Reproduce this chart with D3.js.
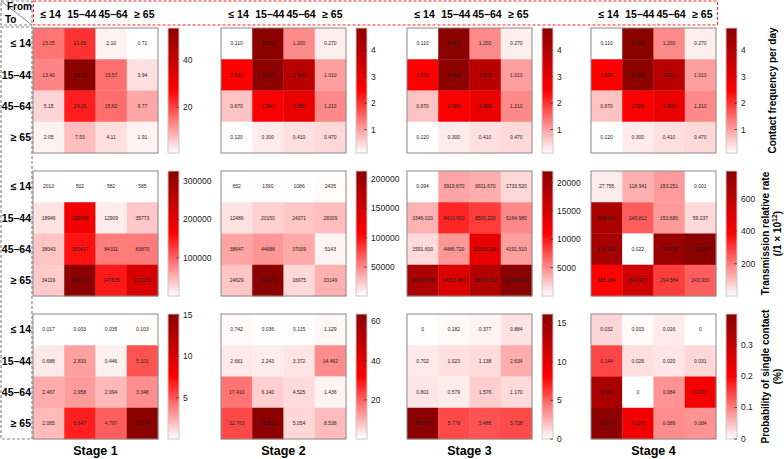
<!DOCTYPE html>
<html><head><meta charset="utf-8">
<script src="https://cdn.jsdelivr.net/npm/d3@7"></script>
<style>body{margin:0;background:#fff}svg{display:block;font-family:"Liberation Sans",Arial,sans-serif}</style>
</head><body><svg id="c" width="784" height="459"></svg>
<script>
const ageGroups = ["≤ 14", "15–44", "45–64", "≥ 65"];
const stageNames = ["Stage 1", "Stage 2", "Stage 3", "Stage 4"];
const rowTitles = [["Contact frequency per day"], ["Transmission relative rate", "(/1 × 10|12|)"], ["Probability of single contact", "(%)"]];

// rows = "To" group, columns = "From" group
const contactS1 = [[15.05, 21.89, 2.10, 0.71], [13.40, 53.33, 15.57, 3.94], [5.15, 24.05, 15.82, 9.77], [2.05, 7.53, 4.11, 1.91]];
const contactS2 = [[0.110, 4.850, 1.200, 0.270], [2.500, 4.800, 3.900, 1.010], [0.670, 2.580, 2.880, 1.210], [0.120, 0.300, 0.410, 0.470]];
const contactS3 = [[0.110, 4.850, 1.200, 0.270], [2.500, 4.800, 3.900, 1.010], [0.670, 2.580, 2.880, 1.210], [0.120, 0.300, 0.410, 0.470]];
const contactS4 = [[0.110, 4.850, 1.200, 0.270], [2.500, 4.800, 3.900, 1.010], [0.670, 2.580, 2.880, 1.210], [0.120, 0.300, 0.410, 0.470]];

const transS1 = [[2010, 502, 582, 585], [18946, 180454, 12909, 35773], [38043, 152417, 84311, 83870], [34119, 326243, 147835, 217258]];
const transS2 = [[652, 1390, 1086, 2435], [12486, 20150, 24371, 28309], [38647, 44688, 37009, 5143], [24629, 213739, 16975, 33149]];
const transS3 = [[0.094, 3919.670, 3601.670, 1733.520], [3346.020, 9413.650, 8500.220, 5164.980], [1591.600, 4486.720, 13250.200, 4191.510], [18909.130, 14263.680, 18387.000, 22068.600]];
const transS4 = [[27.755, 118.941, 153.251, 0.001], [668.091, 245.812, 153.680, 59.237], [683.193, 0.022, 718.098, 773.057], [385.054, 540.475, 294.584, 243.930]];

const probS1 = [[0.017, 0.003, 0.035, 0.103], [0.688, 2.833, 0.446, 5.101], [2.467, 2.958, 2.094, 3.348], [2.065, 6.647, 4.797, 15.144]];
const probS2 = [[0.742, 0.036, 0.115, 1.129], [2.661, 2.243, 3.372, 14.462], [17.410, 6.140, 4.525, 1.436], [22.763, 63.831, 5.054, 8.538]];
const probS3 = [[0, 0.182, 0.377, 0.884], [0.702, 1.023, 1.138, 2.634], [0.801, 0.579, 1.576, 1.170], [16.177, 5.779, 5.486, 5.728]];
const probS4 = [[0.032, 0.003, 0.016, 0], [0.144, 0.026, 0.020, 0.031], [0.344, 0, 0.084, 0.217], [0.397, 0.223, 0.089, 0.084]];

const contactTicks = [[20, 40], [1, 2, 3, 4], [1, 2, 3, 4], [1, 2, 3, 4]];
const transTicks = [[100000, 200000, 300000], [50000, 100000, 150000, 200000], [5000, 10000, 15000, 20000], [200, 400, 600]];
const probTicks = [[5, 10, 15], [20, 40, 60], [0, 5, 10, 15], [0, 0.1, 0.2, 0.3]];

const contactDecimals = [2, 3, 3, 3];
const transDecimals = [0, 0, 3, 3];
const probDecimals = [3, 3, 3, 3];

const panels = [
  {mats: [contactS1, contactS2, contactS3, contactS4], ticks: contactTicks, dec: contactDecimals},
  {mats: [transS1, transS2, transS3, transS4], ticks: transTicks, dec: transDecimals},
  {mats: [probS1, probS2, probS3, probS4], ticks: probTicks, dec: probDecimals}
];

const svg = d3.select("#c");
const colX = [33, 221, 407, 591];
const rowY = [28, 171, 314];
const S = 125;
const colors = ["#ffffff", "#ff0000", "#8b0000"];
const defs = svg.append("defs");

// header boxes
svg.append("rect").attr("x", 33.5).attr("y", 1).attr("width", 684).attr("height", 24)
  .attr("fill", "none").attr("stroke", "#ff2020").attr("stroke-dasharray", "3,2").attr("stroke-width", 1);
svg.append("rect").attr("x", 1).attr("y", 1).attr("width", 31).attr("height", 24)
  .attr("fill", "none").attr("stroke", "#888").attr("stroke-dasharray", "3,2").attr("stroke-width", 1.2);
svg.append("line").attr("x1", 1).attr("y1", 1).attr("x2", 32).attr("y2", 25).attr("stroke", "#888").attr("stroke-width", 1);
svg.append("text").attr("x", 32).attr("y", 10).attr("text-anchor", "end").attr("font-size", 10).attr("font-weight", "bold").text("From");
svg.append("text").attr("x", 5).attr("y", 23).attr("font-size", 10).attr("font-weight", "bold").text("To");
svg.append("rect").attr("x", 1).attr("y", 27).attr("width", 31).attr("height", 412)
  .attr("fill", "none").attr("stroke", "#888").attr("stroke-dasharray", "3,2").attr("stroke-width", 1.2);

const cx = d3.scaleBand().domain(d3.range(4)).range([0, S]);

// header column labels
colX.forEach(x0 => {
  ageGroups.forEach((g, i) => {
    svg.append("text").attr("x", x0 + cx(i) + cx.bandwidth() / 2 + 2).attr("y", 18)
      .attr("text-anchor", "middle").attr("font-size", 10.5).attr("font-weight", "bold").text(g);
  });
});

// row labels
rowY.forEach(y0 => {
  ageGroups.forEach((g, i) => {
    svg.append("text").attr("x", 31).attr("y", y0 + cx(i) + cx.bandwidth() / 2)
      .attr("dy", "0.35em").attr("text-anchor", "end").attr("font-size", 10.5).attr("font-weight", "bold").text(g);
  });
});

panels.forEach((p, r) => {
  const y0 = rowY[r];
  p.mats.forEach((m, s) => {
    const x0 = colX[s];
    const flat = m.flat();
    const mn = d3.min(flat), mx = d3.max(flat);
    const color = d3.scaleLinear().domain([mn, (mn + mx) / 2, mx]).range(colors);
    const g = svg.append("g").attr("transform", `translate(${x0},${y0})`);
    m.forEach((row, ri) => row.forEach((v, ci) => {
      g.append("rect").attr("x", cx(ci)).attr("y", cx(ri)).attr("width", cx.bandwidth() + 0.3).attr("height", cx.bandwidth() + 0.3)
        .attr("fill", color(v));
      g.append("text").attr("x", cx(ci) + cx.bandwidth() / 2).attr("y", cx(ri) + cx.bandwidth() / 2)
        .attr("dy", "0.35em").attr("text-anchor", "middle").attr("font-size", 5).attr("fill", "#222")
        .text(v === 0 ? "0" : v.toFixed(p.dec[s]));
    }));
    g.append("rect").attr("x", 0).attr("y", 0).attr("width", S).attr("height", S)
      .attr("fill", "none").attr("stroke", "#8a8a8a").attr("stroke-width", 1);

    // colorbar
    const bx = x0 + 135, bw = 11;
    const yScale = d3.scaleLinear().domain([mn, mx]).range([y0 + S, y0]);
    const gid = `grad${r}${s}`;
    const grad = defs.append("linearGradient").attr("id", gid).attr("x1", 0).attr("y1", 1).attr("x2", 0).attr("y2", 0);
    d3.range(0, 1.0001, 0.05).forEach(t => {
      grad.append("stop").attr("offset", t).attr("stop-color", color(mn + t * (mx - mn)));
    });
    svg.append("rect").attr("x", bx).attr("y", y0).attr("width", bw).attr("height", S)
      .attr("fill", `url(#${gid})`).attr("stroke", "#c8c8c8").attr("stroke-width", 1);
    p.ticks[s].forEach(t => {
      const ty = yScale(t);
      svg.append("line").attr("x1", bx + bw - 3).attr("x2", bx + bw).attr("y1", ty).attr("y2", ty)
        .attr("stroke", "#444").attr("stroke-width", 0.8);
      svg.append("text").attr("x", bx + bw + 4).attr("y", ty).attr("dy", "0.35em")
        .attr("font-size", 8.5).attr("fill", "#222").text(t);
    });

    if (r === 2) {
      svg.append("text").attr("x", x0 + S / 2).attr("y", 455).attr("text-anchor", "middle")
        .attr("font-size", 12.5).attr("font-weight", "bold").text(stageNames[s]);
    }
  });

  // row titles on right
  const lines = rowTitles[r];
  const cy = y0 + S / 2;
  const xs = lines.length === 1 ? [772] : [765, 777];
  lines.forEach((ln, li) => {
    const t = svg.append("text").attr("transform", `translate(${xs[li]},${cy}) rotate(-90)`)
      .attr("text-anchor", "middle").attr("dominant-baseline", "central")
      .attr("font-size", 10).attr("font-weight", "bold");
    const parts = ln.split("|");
    parts.forEach((pt, pi) => {
      const ts = t.append("tspan").text(pt);
      if (pi === 1) ts.attr("font-size", 7).attr("dy", "-0.5em");
      if (pi === 2) ts.attr("dy", "0.35em");
    });
  });
});
</script></body></html>
